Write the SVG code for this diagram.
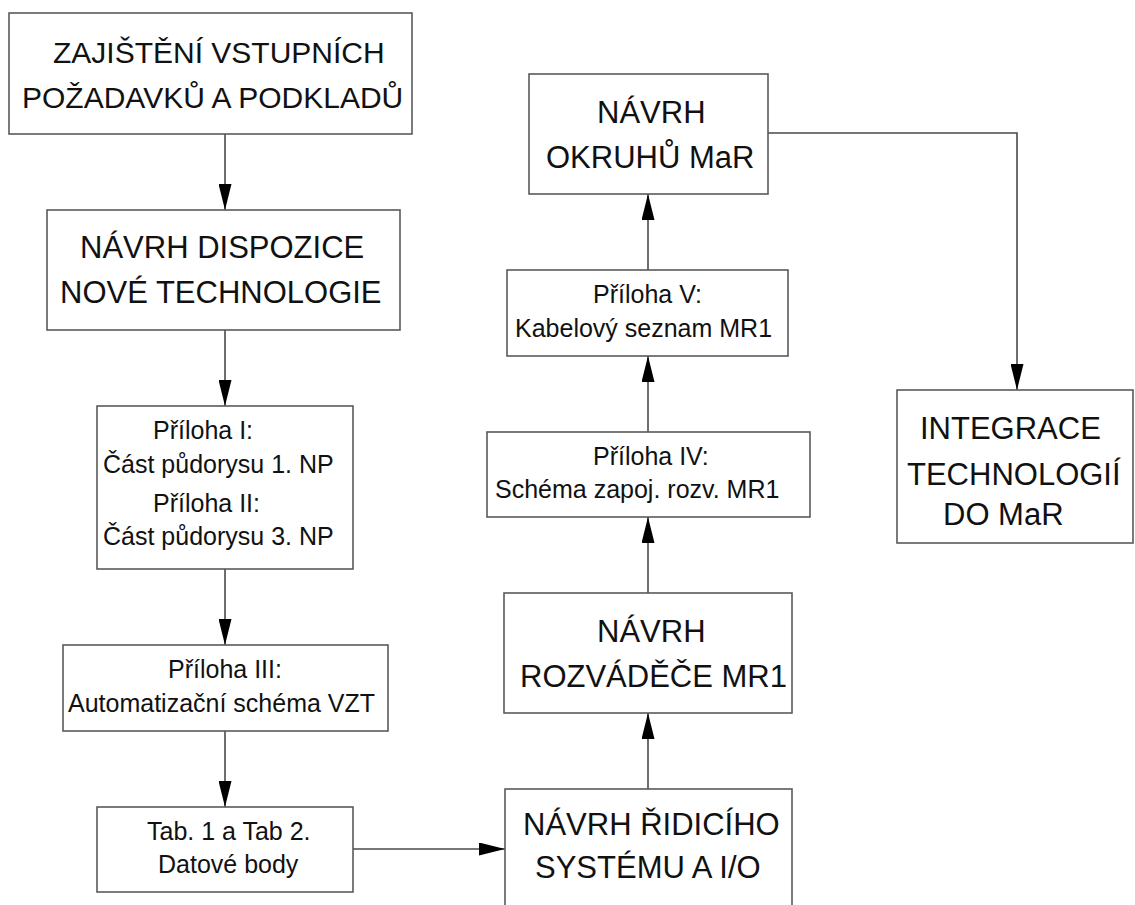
<svg xmlns="http://www.w3.org/2000/svg" width="1135" height="905" viewBox="0 0 1135 905">
  <style>
    .box { fill: #ffffff; stroke: #5a5a5a; stroke-width: 1.6; }
    .big { font-family: "Liberation Sans", Arial, sans-serif; font-size: 31px; fill: #111111; }
    .small { font-family: "Liberation Sans", Arial, sans-serif; font-size: 25px; fill: #111111; }
    .conn { fill: none; stroke: #4a4a4a; stroke-width: 1.6; marker-end: url(#arrow); }
  </style>
  <defs>
    <marker id="arrow" markerUnits="userSpaceOnUse" viewBox="0 0 26 13" refX="26" refY="6.5" markerWidth="26" markerHeight="13" orient="auto">
      <path d="M0,0 L26,6.5 L0,13 Z" fill="#000000"/>
    </marker>
  </defs>
  <rect width="1135" height="905" fill="#ffffff"/>

  <!-- connectors -->
  <g id="connectors">
    <path class="conn" d="M225,134 L225,210"/>
    <path class="conn" d="M225,330 L225,406"/>
    <path class="conn" d="M225,569 L225,645"/>
    <path class="conn" d="M225,731 L225,807"/>
    <path class="conn" d="M353,849 L505,849"/>
    <path class="conn" d="M648,789 L648,713"/>
    <path class="conn" d="M648,593 L648,517"/>
    <path class="conn" d="M648,432 L648,356"/>
    <path class="conn" d="M648,270 L648,194"/>
    <path class="conn" d="M768,133 L1017,133 L1017,390"/>
  </g>

  <g id="n-zajisteni">
    <rect class="box" x="9" y="13" width="403" height="121"/>
    <text class="big" style="font-size:30px" x="53" y="63">ZAJIŠTĚNÍ VSTUPNÍCH</text>
    <text class="big" style="font-size:30px" x="22" y="108">POŽADAVKŮ A PODKLADŮ</text>
  </g>

  <g id="n-dispozice">
    <rect class="box" x="47" y="210" width="353" height="120"/>
    <text class="big" x="80" y="258">NÁVRH DISPOZICE</text>
    <text class="big" x="60" y="303">NOVÉ TECHNOLOGIE</text>
  </g>

  <g id="n-priloha-1-2">
    <rect class="box" x="97" y="406" width="256" height="163"/>
    <text class="small" x="153" y="439">Příloha I:</text>
    <text class="small" x="103" y="473">Část půdorysu 1. NP</text>
    <text class="small" x="153" y="512">Příloha II:</text>
    <text class="small" x="103" y="545">Část půdorysu 3. NP</text>
  </g>

  <g id="n-priloha-3">
    <rect class="box" x="63" y="645" width="325" height="86"/>
    <text class="small" x="168" y="678">Příloha III:</text>
    <text class="small" x="68" y="712">Automatizační schéma VZT</text>
  </g>

  <g id="n-tabulky">
    <rect class="box" x="97" y="807" width="256" height="85"/>
    <text class="small" x="147" y="840">Tab. 1 a Tab 2.</text>
    <text class="small" x="158" y="873">Datové body</text>
  </g>

  <g id="n-ridici-system">
    <rect class="box" x="505" y="789" width="287" height="130"/>
    <text class="big" x="523" y="835">NÁVRH ŘIDICÍHO</text>
    <text class="big" x="535" y="878">SYSTÉMU A I/O</text>
  </g>

  <g id="n-rozvadec">
    <rect class="box" x="504" y="593" width="288" height="120"/>
    <text class="big" x="597" y="642">NÁVRH</text>
    <text class="big" x="520" y="687">ROZVÁDĚČE MR1</text>
  </g>

  <g id="n-priloha-4">
    <rect class="box" x="487" y="432" width="323" height="85"/>
    <text class="small" x="593" y="465">Příloha IV:</text>
    <text class="small" x="495" y="498">Schéma zapoj. rozv. MR1</text>
  </g>

  <g id="n-priloha-5">
    <rect class="box" x="507" y="270" width="281" height="86"/>
    <text class="small" x="593" y="303">Příloha V:</text>
    <text class="small" x="515" y="337">Kabelový seznam MR1</text>
  </g>

  <g id="n-okruhy">
    <rect class="box" x="529" y="74" width="239" height="120"/>
    <text class="big" x="597" y="123">NÁVRH</text>
    <text class="big" x="546" y="168">OKRUHŮ MaR</text>
  </g>

  <g id="n-integrace">
    <rect class="box" x="897" y="390" width="236" height="153"/>
    <text class="big" x="920" y="439">INTEGRACE</text>
    <text class="big" x="907" y="485">TECHNOLOGIÍ</text>
    <text class="big" x="943" y="525">DO MaR</text>
  </g>
</svg>
